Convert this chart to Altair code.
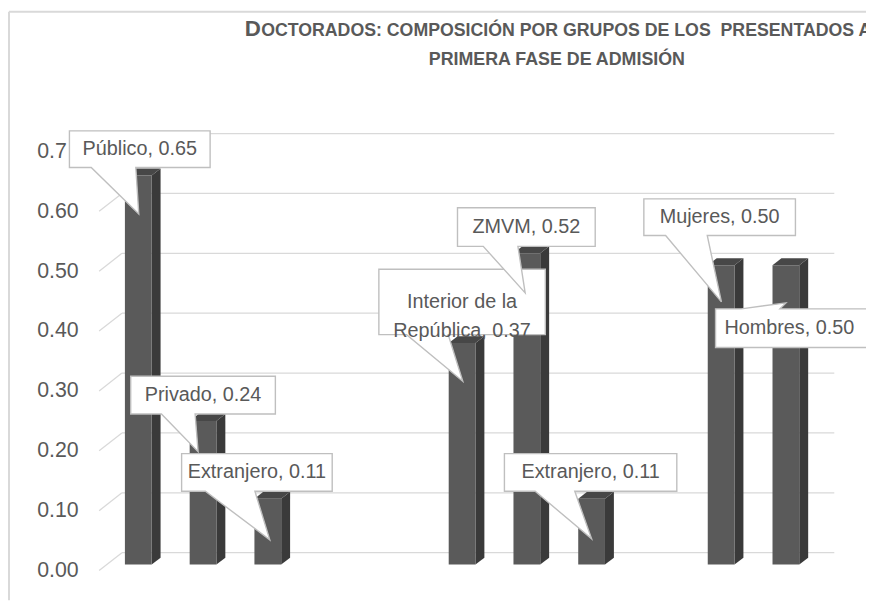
import altair as alt
import pandas as pd

# ---------------- data ----------------
categories = ["Público", "Privado", "Extranjero", "Interior de la República",
              "ZMVM", "Extranjero", "Mujeres", "Hombres"]
values = [0.65, 0.24, 0.11, 0.37, 0.52, 0.11, 0.50, 0.50]
slots = [0, 1, 2, 5, 6, 7, 9, 10]          # category slot on an 11-slot axis
n_slots = 11
label_texts = ["Público, 0.65", "Privado, 0.24", "Extranjero, 0.11",
               "Interior de la\nRepública, 0.37", "ZMVM, 0.52",
               "Extranjero, 0.11", "Mujeres, 0.50", "Hombres, 0.50"]
y_ticks = [0.0, 0.1, 0.2, 0.3, 0.4, 0.5, 0.6, 0.7]
title_initial = "D"
title_line1 = "OCTORADOS: COMPOSICIÓN POR GRUPOS DE LOS\u00a0 PRESENTADOS A"
title_line2 = "PRIMERA FASE DE ADMISIÓN"

# ---------------- styles ----------------
W, H = 719, 423
Y_MAX = 0.7
PXX = n_slots / W           # slot units per pixel
PXY = Y_MAX / H             # value units per pixel
FRONT_DY = 12               # front plane of the bars below the back wall
FACE_L, FACE_R = 3, 30      # front face, px from slot start
DEPTH_DX, DEPTH_DY = 9, 7   # bar depth
WALL_DX, WALL_DY = 23, 18   # side wall depth
ANCHOR_DX = 16.5            # centre of the front face
FRONT_C = "#5a5a5a"
SIDE_C = "#3a3a3a"
TOP_C = "#474747"
GRID_C = "#d9d9d9"
TEXT_C = "#595959"
FONT = "Liberation Sans"

# callout geometry relative to the front-top-centre of the bar (px)
# box (left, top, right, bottom), pointer base (x1, x2), edge, tip (x, y)
boxes = [(-69.5, -45, 72.5, -8), (-73, -45, 73, -7), (-87, -45.5, 65, -7.5),
         (-84, -74.5, 84, -8.5), (-70, -46, 69, -7), (-88, -45.5, 86, -7.5),
         (-78, -67, 75, -30), (-71, 44, 97, 83)]
bases = [(-47.5, -2.5), (-42, -8), (-63, -13), (-56, -14), (-44, -9),
         (-57, -17), (-56, -14), (-45, -6)]
edges = ["bottom"] * 7 + ["top"]
tips = [(0.5, 39), (-5, 31), (2, 41.5), (0.7, 38.6), (-1.7, 40), (0, 40.5),
        (0.3, 37), (0, 38)]


def callout_path(box, base, edge, tip):
    l, t, r, b = box
    x1, x2 = base
    tx, ty = tip
    if edge == "bottom":
        return (f"M{l},{t}L{r},{t}L{r},{b}L{x2},{b}L{tx},{ty}"
                f"L{x1},{b}L{l},{b}Z")
    return (f"M{l},{t}L{x1},{t}L{tx},{ty}L{x2},{t}L{r},{t}"
            f"L{r},{b}L{l},{b}Z")


bars = pd.DataFrame({"cat": categories, "v": values, "slot": slots,
                     "id": range(len(values))})
bars["path"] = [callout_path(*g) for g in zip(boxes, bases, edges, tips)]
bars["label"] = label_texts

# side and top faces as areas (pixel offsets converted to data units)
faces = []
for i, (s, v) in enumerate(zip(slots, values)):
    a = s + FACE_L * PXX
    b = s + FACE_R * PXX
    dx = DEPTH_DX * PXX
    dy = DEPTH_DY * PXY
    faces += [dict(id=i, face="side", x=b, y=v, y2=0.0),
              dict(id=i, face="side", x=b + dx, y=v + dy, y2=dy)]
    faces += [dict(id=i, face="top", x=a, y=v, y2=v),
              dict(id=i, face="top", x=a + dx, y=v + dy, y2=v),
              dict(id=i, face="top", x=b, y=v + dy, y2=v),
              dict(id=i, face="top", x=b + dx, y=v + dy, y2=v + dy)]
faces = pd.DataFrame(faces)

xs = alt.Scale(domain=[0, n_slots], nice=False, zero=False)
ys = alt.Scale(domain=[0, Y_MAX], nice=False, zero=True)

yax = alt.Axis(
    values=y_ticks, grid=False, domain=False, ticks=False,
    labelAlign="left", labelPadding=86, labelOffset=WALL_DY,
    labelFontSize=21.5, labelFont=FONT, labelColor=TEXT_C, title=None,
    labelExpr="datum.value >= 0.69 ? '0.7' : format(datum.value, '.2f')")


def Y(field):
    return alt.Y(field, scale=ys, axis=yax)


def X(field):
    return alt.X(field, scale=xs, axis=None)


ticks = pd.DataFrame({"t": y_ticks})

grid = alt.Chart(ticks).mark_rule(color=GRID_C, strokeWidth=1.3).encode(
    x=alt.value(0), x2=alt.value(W), y=Y("t:Q"))

# side-wall lines: a stroked path from the back wall to the front edge
walls = alt.Chart(ticks).mark_point(
    shape=f"M0,0L{-WALL_DX},{WALL_DY}", size=4, filled=False,
    stroke=GRID_C, strokeWidth=1.3, opacity=1).encode(
    x=alt.value(0), y=Y("t:Q"))

side = alt.Chart(faces[faces.face == "side"]).mark_area(
    color=SIDE_C, yOffset=FRONT_DY, y2Offset=FRONT_DY).encode(
    x=X("x:Q"), y=Y("y:Q"), y2="y2:Q", detail="id:N")

top = alt.Chart(faces[faces.face == "top"]).mark_area(
    color=TOP_C, yOffset=FRONT_DY, y2Offset=FRONT_DY).encode(
    x=X("x:Q"), y=Y("y:Q"), y2="y2:Q", detail="id:N")

front = alt.Chart(bars).mark_rect(
    color=FRONT_C, xOffset=FACE_L, x2Offset=FACE_R,
    yOffset=FRONT_DY, y2Offset=FRONT_DY).encode(
    x=X("slot:Q"), x2="slot:Q", y=Y("v:Q"), y2=alt.datum(0))

callouts = alt.Chart(bars).mark_point(
    filled=True, fill="white", fillOpacity=1, stroke="#bfbfbf",
    strokeOpacity=1, strokeWidth=1.4, size=4, opacity=1,
    xOffset=ANCHOR_DX, yOffset=FRONT_DY).encode(
    x=X("slot:Q"), y=Y("v:Q"),
    shape=alt.Shape("path:N", scale=None, legend=None),
    order=alt.Order("id:Q"))

texts = []
for i in range(len(values)):
    l, t, r, b = boxes[i]
    if i == 7:
        align, dx = "left", -62 + ANCHOR_DX
    else:
        align, dx = "center", (l + r) / 2 + ANCHOR_DX
    dy = (t + b) / 2 + FRONT_DY
    texts.append(alt.Chart(bars.iloc[[i]]).mark_text(
        align=align, baseline="middle", dx=dx, dy=dy, fontSize=20,
        font=FONT, color=TEXT_C, lineBreak="\n", lineHeight=29).encode(
        x=X("slot:Q"), y=Y("v:Q"), text="label:N"))


def title_text(txt, xpos, ypos, size, align):
    return alt.Chart(pd.DataFrame({"t": [txt]})).mark_text(
        align=align, baseline="alphabetic", fontSize=size, fontWeight="bold",
        font=FONT, color=TEXT_C).encode(
        text="t:N", x=alt.value(xpos), y=alt.value(ypos))


title_parts = [
    title_text(title_initial, 124, -99, 22.5, "left"),
    title_text(title_line1, 140.5, -99, 17.9, "left"),
    title_text(title_line2, 439, -69, 18, "center"),
]

one = pd.DataFrame({"a": [0]})
border_l = alt.Chart(one).mark_rule(color="#d9d9d9", strokeWidth=2).encode(
    x=alt.value(-114), y=alt.value(-123), y2=alt.value(471))
border_t = alt.Chart(one).mark_rule(color="#d9d9d9", strokeWidth=2).encode(
    x=alt.value(-114), x2=alt.value(760), y=alt.value(-123))

chart = alt.layer(grid, walls, side, top, front, callouts, *texts,
                  *title_parts, border_l, border_t).properties(
    width=W, height=H, autosize="none", background="white",
    padding={"left": 115, "top": 124, "right": 32, "bottom": 48},
).configure_view(strokeWidth=0)

chart.save("out.html", embed_options={"renderer": "svg", "actions": False})
